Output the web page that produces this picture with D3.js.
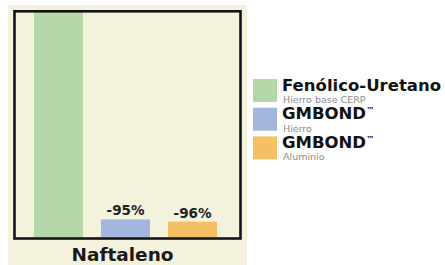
<!DOCTYPE html>
<html>
<head>
<meta charset="utf-8">
<script src="https://cdn.jsdelivr.net/npm/d3@7"></script>
<style>
  body { margin: 0; background: #fff; }
  svg { display: block; }
  text { font-family: "DejaVu Sans", sans-serif; }
</style>
</head>
<body>
<svg id="chart" width="445" height="265"></svg>
<script>
// data
var series = ["Fenólico-Uretano", "GMBOND", "GMBOND"];
var marks = ["", "™", "™"];
var subtitles = ["Hierro base CERP", "Hierro", "Aluminio"];
var values = [100, 5, 4.4];
var labels = ["", "-95%", "-96%"];
var category = "Naftaleno";
var colors = ["#b5d8aa", "#a3b6de", "#f5c063"];

var svg = d3.select("#chart");

// cream panel behind the plot
svg.append("rect")
  .attr("x", 8).attr("y", 5)
  .attr("width", 239).attr("height", 260)
  .attr("fill", "#f4f2dc");

var plotLeft = 15.5, plotTop = 12, plotRight = 239.5, plotBottom = 237.5;

var x = d3.scaleBand()
  .domain(d3.range(series.length))
  .range([16, 235])
  .paddingInner(0.2687)
  .paddingOuter(0.2687);

// green bar runs past the top of the frame, so scale is zoomed in on the small ones
var y = d3.scaleLinear()
  .domain([0, 62.5])
  .range([plotBottom, plotTop]);

svg.append("clipPath").attr("id", "plotclip")
  .append("rect")
  .attr("x", plotLeft).attr("y", plotTop)
  .attr("width", plotRight - plotLeft).attr("height", plotBottom - plotTop);

var g = svg.append("g").attr("clip-path", "url(#plotclip)");

g.selectAll(".bar")
  .data(values)
  .enter().append("rect")
  .attr("class", "bar")
  .attr("x", function(d, i) { return x(i); })
  .attr("y", function(d) { return y(d); })
  .attr("width", x.bandwidth())
  .attr("height", function(d) { return plotBottom - y(d); })
  .attr("fill", function(d, i) { return colors[i]; });

svg.selectAll(".val")
  .data(values)
  .enter().append("text")
  .attr("class", "val")
  .attr("x", function(d, i) { return x(i) + x.bandwidth() / 2; })
  .attr("y", function(d) { return y(d) - 4; })
  .attr("text-anchor", "middle")
  .attr("font-size", 13.5)
  .attr("font-weight", "bold")
  .attr("fill", "#222")
  .text(function(d, i) { return labels[i]; });

// frame
svg.append("rect")
  .attr("x", 14.5).attr("y", 11.3)
  .attr("width", 226).attr("height", 227.2)
  .attr("fill", "none")
  .attr("stroke", "#141414")
  .attr("stroke-width", 2.6);

svg.append("text")
  .attr("x", 122.5).attr("y", 261)
  .attr("text-anchor", "middle")
  .attr("font-size", 18.5)
  .attr("font-weight", "bold")
  .attr("fill", "#1a1a1a")
  .text(category);

// legend
var legend = svg.selectAll(".leg")
  .data(series)
  .enter().append("g")
  .attr("class", "leg")
  .attr("transform", function(d, i) { return "translate(253," + (79 + i * 28.7) + ")"; });

legend.append("rect")
  .attr("width", 24).attr("height", 23)
  .attr("fill", function(d, i) { return colors[i]; });

var title = legend.append("text")
  .attr("x", 29).attr("y", 11.5)
  .attr("font-size", 16.5)
  .attr("font-weight", "bold")
  .attr("fill", "#111");
title.append("tspan").text(function(d) { return d; });
title.append("tspan")
  .attr("font-size", 8)
  .attr("dy", -6)
  .text(function(d, i) { return marks[i]; });

legend.append("text")
  .attr("x", 30).attr("y", 24)
  .attr("font-size", 9.5)
  .attr("fill", "#8c8c8c")
  .text(function(d, i) { return subtitles[i]; });
</script>
</body>
</html>
